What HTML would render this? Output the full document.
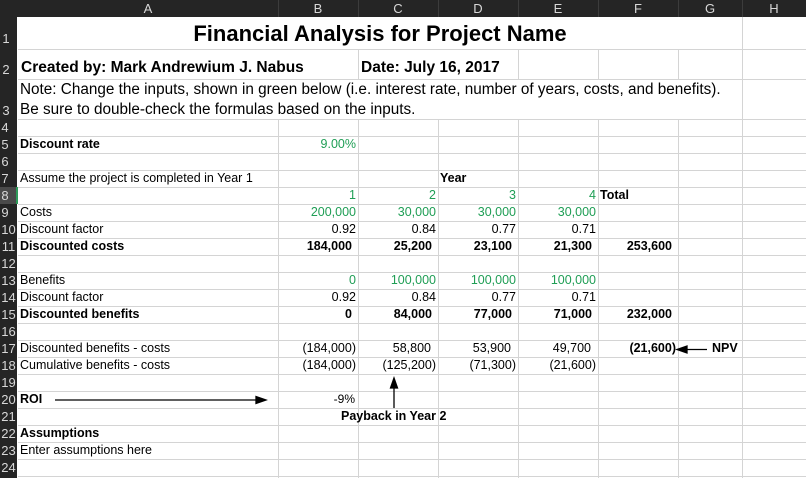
<!DOCTYPE html>
<html><head><meta charset="utf-8"><style>
body{margin:0;width:806px;height:478px;overflow:hidden;background:#fff;font-family:"Liberation Sans",Arial,sans-serif;position:relative}
.c{position:absolute;height:17px;line-height:17px;font-size:12.5px;white-space:nowrap;color:#000}
.r{text-align:right}
.b{font-weight:bold}
.g{color:#1f9e55}
.h{position:absolute;color:#d8d8d8;font-size:13px;text-align:center;line-height:17px}
</style></head><body>
<svg width="806" height="478" style="position:absolute;left:0;top:0">
<rect x="0" y="0" width="806" height="17" fill="#252525"/>
<rect x="0" y="0" width="17" height="478" fill="#252525"/>
<rect x="0" y="187" width="17" height="17" fill="#4a4a4a"/>
<rect x="16" y="187" width="2" height="17" fill="#2e9b5a"/>
<g stroke="#3c3c3c" stroke-width="1">
<line x1="278.5" y1="0" x2="278.5" y2="17"/><line x1="358.5" y1="0" x2="358.5" y2="17"/><line x1="438.5" y1="0" x2="438.5" y2="17"/><line x1="518.5" y1="0" x2="518.5" y2="17"/><line x1="598.5" y1="0" x2="598.5" y2="17"/><line x1="678.5" y1="0" x2="678.5" y2="17"/><line x1="742.5" y1="0" x2="742.5" y2="17"/>
</g>
<g stroke="#d4d4d4" stroke-width="1">
<line x1="742.5" y1="17" x2="742.5" y2="478"/>
<line x1="358.5" y1="49" x2="358.5" y2="79"/><line x1="518.5" y1="49" x2="518.5" y2="79"/><line x1="598.5" y1="49" x2="598.5" y2="79"/><line x1="678.5" y1="49" x2="678.5" y2="79"/>
<line x1="278.5" y1="119" x2="278.5" y2="478"/><line x1="358.5" y1="119" x2="358.5" y2="478"/><line x1="438.5" y1="119" x2="438.5" y2="478"/><line x1="518.5" y1="119" x2="518.5" y2="478"/><line x1="598.5" y1="119" x2="598.5" y2="478"/><line x1="678.5" y1="119" x2="678.5" y2="478"/>
<line x1="18" y1="49.5" x2="806" y2="49.5"/><line x1="18" y1="79.5" x2="806" y2="79.5"/><line x1="18" y1="119.5" x2="806" y2="119.5"/>
<line x1="18" y1="136.5" x2="806" y2="136.5"/><line x1="18" y1="153.5" x2="806" y2="153.5"/><line x1="18" y1="170.5" x2="806" y2="170.5"/><line x1="18" y1="187.5" x2="806" y2="187.5"/><line x1="18" y1="204.5" x2="806" y2="204.5"/><line x1="18" y1="221.5" x2="806" y2="221.5"/><line x1="18" y1="238.5" x2="806" y2="238.5"/><line x1="18" y1="255.5" x2="806" y2="255.5"/><line x1="18" y1="272.5" x2="806" y2="272.5"/><line x1="18" y1="289.5" x2="806" y2="289.5"/><line x1="18" y1="306.5" x2="806" y2="306.5"/><line x1="18" y1="323.5" x2="806" y2="323.5"/><line x1="18" y1="340.5" x2="806" y2="340.5"/><line x1="18" y1="357.5" x2="806" y2="357.5"/><line x1="18" y1="374.5" x2="806" y2="374.5"/><line x1="18" y1="391.5" x2="806" y2="391.5"/><line x1="18" y1="408.5" x2="806" y2="408.5"/><line x1="18" y1="425.5" x2="806" y2="425.5"/><line x1="18" y1="442.5" x2="806" y2="442.5"/><line x1="18" y1="459.5" x2="806" y2="459.5"/><line x1="18" y1="476.5" x2="806" y2="476.5"/>
</g>
<g stroke="#000" stroke-width="1.3" fill="#000">
<line x1="55" y1="400" x2="258" y2="400"/><polygon points="266,400 256,396.5 256,403.5"/>
<line x1="394" y1="408" x2="394" y2="386"/><polygon points="394,378 390.5,388 397.5,388"/>
<line x1="686" y1="349.5" x2="707" y2="349.5"/><polygon points="677,349.5 687,346 687,353"/>
</g>
</svg>
<div class="h" style="left:18px;top:0;width:260px">A</div>
<div class="h" style="left:278px;top:0;width:80px">B</div>
<div class="h" style="left:358px;top:0;width:80px">C</div>
<div class="h" style="left:438px;top:0;width:80px">D</div>
<div class="h" style="left:518px;top:0;width:80px">E</div>
<div class="h" style="left:598px;top:0;width:80px">F</div>
<div class="h" style="left:678px;top:0;width:64px">G</div>
<div class="h" style="left:742px;top:0;width:64px">H</div>
<div class="h" style="left:0;top:30px;width:12px">1</div>
<div class="h" style="left:0;top:61px;width:12px">2</div>
<div class="h" style="left:0;top:102px;width:12px">3</div>
<div class="h" style="left:0;top:119px;width:10px">4</div>
<div class="h" style="left:0;top:136px;width:10px">5</div>
<div class="h" style="left:0;top:153px;width:10px">6</div>
<div class="h" style="left:0;top:170px;width:10px">7</div>
<div class="h" style="left:0;top:187px;width:10px">8</div>
<div class="h" style="left:0;top:204px;width:10px">9</div>
<div class="h" style="left:0;top:221px;width:17px">10</div>
<div class="h" style="left:0;top:238px;width:17px">11</div>
<div class="h" style="left:0;top:255px;width:17px">12</div>
<div class="h" style="left:0;top:272px;width:17px">13</div>
<div class="h" style="left:0;top:289px;width:17px">14</div>
<div class="h" style="left:0;top:306px;width:17px">15</div>
<div class="h" style="left:0;top:323px;width:17px">16</div>
<div class="h" style="left:0;top:340px;width:17px">17</div>
<div class="h" style="left:0;top:357px;width:17px">18</div>
<div class="h" style="left:0;top:374px;width:17px">19</div>
<div class="h" style="left:0;top:391px;width:17px">20</div>
<div class="h" style="left:0;top:408px;width:17px">21</div>
<div class="h" style="left:0;top:425px;width:17px">22</div>
<div class="h" style="left:0;top:442px;width:17px">23</div>
<div class="h" style="left:0;top:459px;width:17px">24</div>

<div class="c b" style="left:18px;top:20px;width:724px;height:28px;line-height:28px;font-size:22px;text-align:center">Financial Analysis for Project Name</div>
<div class="c b" style="left:21px;top:57px;height:22px;line-height:22px;font-size:15.5px">Created by: Mark Andrewium J. Nabus</div>
<div class="c b" style="left:361px;top:57px;height:22px;line-height:22px;font-size:15.5px">Date: July 16, 2017</div>
<div class="c" style="left:20px;top:80px;height:40px;line-height:20px;font-size:15.3px">Note: Change the inputs, shown in green below (i.e. interest rate, number of years, costs, and benefits).<br>Be sure to double-check the formulas based on the inputs.</div>

<div class="c b" style="left:20px;top:136px">Discount rate</div>
<div class="c r g" style="left:278px;top:136px;width:78px">9.00%</div>
<div class="c" style="left:20px;top:170px">Assume the project is completed in Year 1</div>
<div class="c b" style="left:440px;top:170px">Year</div>
<div class="c r g" style="left:278px;top:187px;width:78px">1</div>
<div class="c r g" style="left:358px;top:187px;width:78px">2</div>
<div class="c r g" style="left:438px;top:187px;width:78px">3</div>
<div class="c r g" style="left:518px;top:187px;width:78px">4</div>
<div class="c b" style="left:600px;top:187px">Total</div>

<div class="c" style="left:20px;top:204px">Costs</div>
<div class="c r g" style="left:278px;top:204px;width:78px">200,000</div>
<div class="c r g" style="left:358px;top:204px;width:78px">30,000</div>
<div class="c r g" style="left:438px;top:204px;width:78px">30,000</div>
<div class="c r g" style="left:518px;top:204px;width:78px">30,000</div>
<div class="c" style="left:20px;top:221px">Discount factor</div>
<div class="c r" style="left:278px;top:221px;width:78px">0.92</div>
<div class="c r" style="left:358px;top:221px;width:78px">0.84</div>
<div class="c r" style="left:438px;top:221px;width:78px">0.77</div>
<div class="c r" style="left:518px;top:221px;width:78px">0.71</div>
<div class="c b" style="left:20px;top:238px">Discounted costs</div>
<div class="c r b" style="left:278px;top:238px;width:74px">184,000</div>
<div class="c r b" style="left:358px;top:238px;width:74px">25,200</div>
<div class="c r b" style="left:438px;top:238px;width:74px">23,100</div>
<div class="c r b" style="left:518px;top:238px;width:74px">21,300</div>
<div class="c r b" style="left:598px;top:238px;width:74px">253,600</div>

<div class="c" style="left:20px;top:272px">Benefits</div>
<div class="c r g" style="left:278px;top:272px;width:78px">0</div>
<div class="c r g" style="left:358px;top:272px;width:78px">100,000</div>
<div class="c r g" style="left:438px;top:272px;width:78px">100,000</div>
<div class="c r g" style="left:518px;top:272px;width:78px">100,000</div>
<div class="c" style="left:20px;top:289px">Discount factor</div>
<div class="c r" style="left:278px;top:289px;width:78px">0.92</div>
<div class="c r" style="left:358px;top:289px;width:78px">0.84</div>
<div class="c r" style="left:438px;top:289px;width:78px">0.77</div>
<div class="c r" style="left:518px;top:289px;width:78px">0.71</div>
<div class="c b" style="left:20px;top:306px">Discounted benefits</div>
<div class="c r b" style="left:278px;top:306px;width:74px">0</div>
<div class="c r b" style="left:358px;top:306px;width:74px">84,000</div>
<div class="c r b" style="left:438px;top:306px;width:74px">77,000</div>
<div class="c r b" style="left:518px;top:306px;width:74px">71,000</div>
<div class="c r b" style="left:598px;top:306px;width:74px">232,000</div>

<div class="c" style="left:20px;top:340px">Discounted benefits - costs</div>
<div class="c r" style="left:278px;top:340px;width:78px">(184,000)</div>
<div class="c r" style="left:358px;top:340px;width:73px">58,800</div>
<div class="c r" style="left:438px;top:340px;width:73px">53,900</div>
<div class="c r" style="left:518px;top:340px;width:73px">49,700</div>
<div class="c r b" style="left:598px;top:340px;width:78px">(21,600)</div>
<div class="c b" style="left:712px;top:340px">NPV</div>
<div class="c" style="left:20px;top:357px">Cumulative benefits - costs</div>
<div class="c r" style="left:278px;top:357px;width:78px">(184,000)</div>
<div class="c r" style="left:358px;top:357px;width:78px">(125,200)</div>
<div class="c r" style="left:438px;top:357px;width:78px">(71,300)</div>
<div class="c r" style="left:518px;top:357px;width:78px">(21,600)</div>

<div class="c b" style="left:20px;top:391px">ROI</div>
<div class="c r" style="left:278px;top:391px;width:77px;font-size:12px">-9%</div>
<div class="c b" style="left:341px;top:408px">Payback in Year 2</div>
<div class="c b" style="left:20px;top:425px">Assumptions</div>
<div class="c" style="left:20px;top:442px">Enter assumptions here</div>
</body></html>
